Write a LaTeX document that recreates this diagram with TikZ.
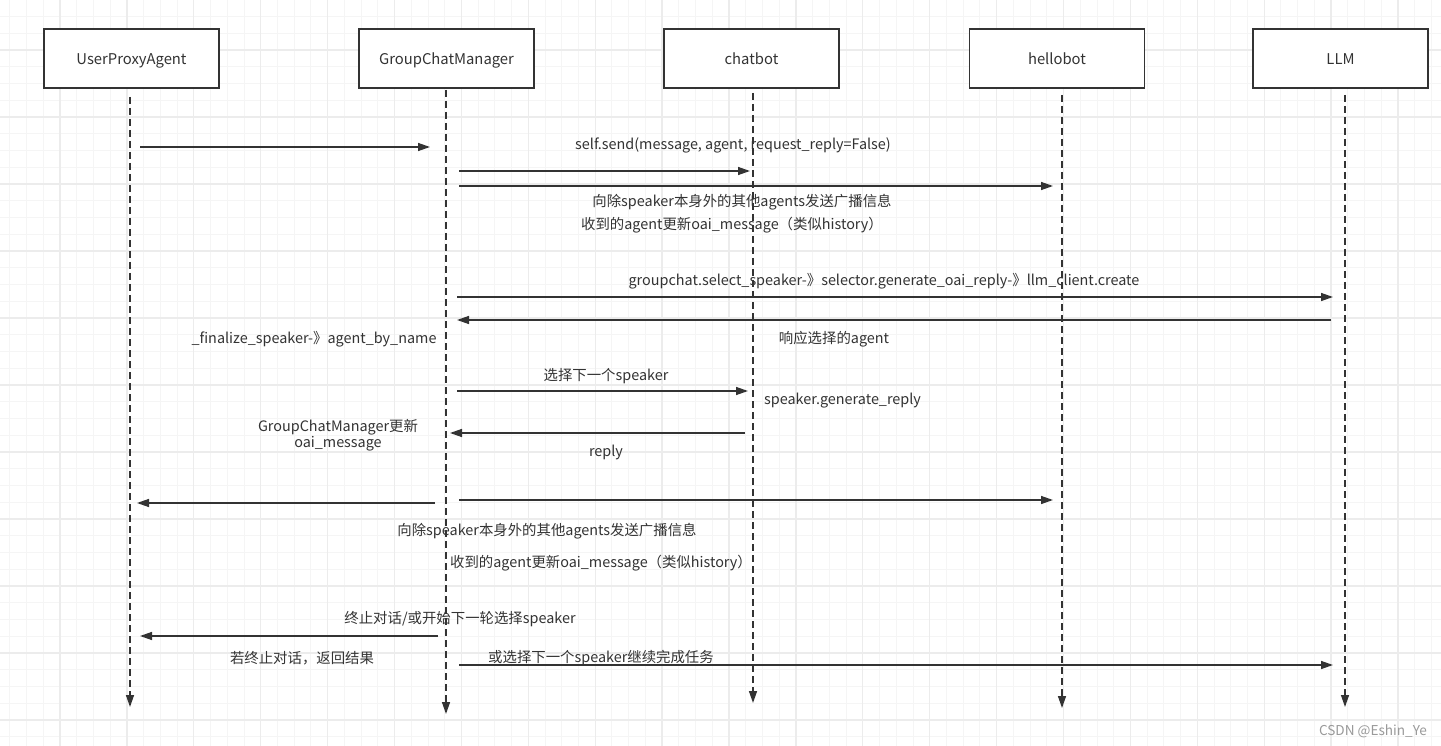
\documentclass[tikz,border=0pt]{standalone}
\usepackage{fontspec}
\setmainfont{Noto Sans CJK SC}
\usetikzlibrary{arrows.meta}
\definecolor{ink}{HTML}{333333}
\definecolor{gridminor}{HTML}{F5F5F5}
\definecolor{gridmajor}{HTML}{ECECEC}
\definecolor{wmark}{HTML}{9A9A9A}
\tikzset{
  actor/.style={draw=ink, line width=1.3pt, fill=white, minimum width=175pt, minimum height=59pt, inner sep=0pt, text height=13pt, text depth=1pt, text=ink, font=\fontsize{14.8}{17}\selectfont},
  lifeline/.style={draw=ink, line width=1.4pt, dash pattern=on 7pt off 4pt, -{Triangle[length=12pt,width=8pt]}},
  msg/.style={draw=ink, line width=1.4pt, -{Triangle[length=12pt,width=8pt]}},
  lbl/.style={text=ink, inner sep=0pt, yshift=-1.5pt, font=\fontsize{14.4}{16.5}\selectfont},
}
\begin{document}
\begin{tikzpicture}[x=1pt,y=-1pt]
\useasboundingbox (0,0) rectangle (1441,746);
\fill[white] (0,0) rectangle (1441,746);
% grid
\foreach \i in {0,...,87} {
  \pgfmathsetmacro{\gx}{-6.9+\i*16.725}
  \draw[gridminor, line width=0.9pt] (\gx,0) -- (\gx,746);
}
\foreach \i in {0,...,45} {
  \pgfmathsetmacro{\gy}{-0.25+\i*16.75}
  \draw[gridminor, line width=0.9pt] (0,\gy) -- (1441,\gy);
}
\foreach \i in {0,...,22} {
  \pgfmathsetmacro{\gx}{60.0+(\i-1)*66.9}
  \draw[gridmajor, line width=1.3pt] (\gx,0) -- (\gx,746);
}
\foreach \i in {0,...,11} {
  \pgfmathsetmacro{\gy}{50+(\i-1)*67}
  \draw[gridmajor, line width=1.3pt] (0,\gy) -- (1441,\gy);
}

% actors
\node[actor] (up)  at (131.5,58.5) {UserProxyAgent};
\node[actor] (gcm) at (446.5,58.5) {GroupChatManager};
\node[actor] (cb)  at (751.5,58.5) {chatbot};
\node[actor] (hb)  at (1057,58.5) {hellobot};
\node[actor] (llm) at (1340.5,58.5) {LLM};

% lifelines
\coordinate (upT) at (130,97);   \coordinate (upB) at (130,707);
\coordinate (gcmT) at (446,90);  \coordinate (gcmB) at (446,714);
\coordinate (cbT) at (753,93);   \coordinate (cbB) at (753,703);
\coordinate (hbT) at (1062,95);  \coordinate (hbB) at (1062,708);
\coordinate (llmT) at (1345,95); \coordinate (llmB) at (1345,707);
\draw[lifeline] (upT) -- (upB);
\draw[lifeline] (gcmT) -- (gcmB);
\draw[lifeline] (cbT) -- (cbB);
\draw[lifeline] (hbT) -- (hbB);
\draw[lifeline] (llmT) -- (llmB);

% message endpoints
\coordinate (m1s) at (140,147);  \coordinate (m1e) at (430,147);
\coordinate (m2s) at (459,171);  \coordinate (m2e) at (750,171);
\coordinate (m3s) at (459,186);  \coordinate (m3e) at (1053,186);
\coordinate (m4s) at (457,297);  \coordinate (m4e) at (1333,297);
\coordinate (m5s) at (1331,320); \coordinate (m5e) at (457,320);
\coordinate (m6s) at (457,391);  \coordinate (m6e) at (748,391);
\coordinate (m7s) at (745,433);  \coordinate (m7e) at (450,433);
\coordinate (m8s) at (435,503);  \coordinate (m8e) at (137,503);
\coordinate (m9s) at (459,500);  \coordinate (m9e) at (1053,500);
\coordinate (m10s) at (438,636); \coordinate (m10e) at (140,636);
\coordinate (m11s) at (459,665); \coordinate (m11e) at (1333,665);

\draw[msg] (m1s) -- (m1e);
\draw[msg] (m2s) -- (m2e);
\draw[msg] (m3s) -- (m3e);
\draw[msg] (m4s) -- (m4e);
\draw[msg] (m5s) -- (m5e);
\draw[msg] (m6s) -- (m6e);
\draw[msg] (m7s) -- (m7e);
\draw[msg] (m8s) -- (m8e);
\draw[msg] (m9s) -- (m9e);
\draw[msg] (m10s) -- (m10e);
\draw[msg] (m11s) -- (m11e);

% labels
\node[lbl] (l1) at (733,144) {self.send(message, agent, request\_reply=False)};
\node[lbl] (l2) at (742,201) {向除speaker本身外的其他agents发送广播信息};
\node[lbl] (l3) at (732,224) {收到的agent更新oai\_message（类似history）};
\node[lbl] (l4) at (884,280) {groupchat.select\_speaker-》selector.generate\_oai\_reply-》llm\_client.create};
\node[lbl] (l5) at (834,338) {响应选择的agent};
\node[lbl] (l6) at (314,338) {\_finalize\_speaker-》agent\_by\_name};
\node[lbl] (l7) at (606,375) {选择下一个speaker};
\node[lbl, anchor=west] (l8) at (764,399) {speaker.generate\_reply};
\node[lbl, align=center] (l9) at (338,433.5) {GroupChatManager更新\\oai\_message};
\node[lbl] (l10) at (606,451) {reply};
\node[lbl] (l11) at (547,530) {向除speaker本身外的其他agents发送广播信息};
\node[lbl] (l12) at (601,562) {收到的agent更新oai\_message（类似history）};
\node[lbl] (l13) at (460,618) {终止对话/或开始下一轮选择speaker};
\node[lbl] (l14) at (302,657) {若终止对话，返回结果};
\node[lbl] (l15) at (601,657) {或选择下一个speaker继续完成任务};
\node[text=wmark, inner sep=0pt, yshift=-1.5pt, font=\fontsize{13.6}{15}\selectfont] (wm) at (1373,730) {CSDN @Eshin\_Ye};
\end{tikzpicture}
\end{document}
